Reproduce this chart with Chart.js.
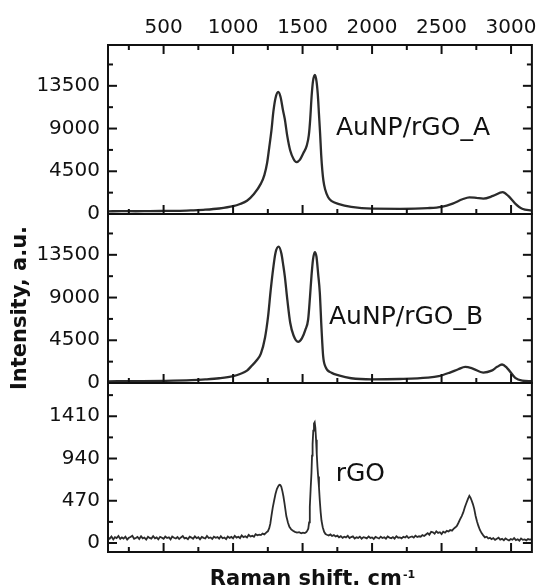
<!DOCTYPE html>
<html>
<head>
<meta charset="utf-8">
<script src="https://cdn.jsdelivr.net/npm/chart.js@4.4.0/dist/chart.umd.min.js"></script>
<style>
html,body{margin:0;padding:0;background:#fff;}
#wrap{width:542px;height:587px;position:relative;}
</style>
</head>
<body>
<div id="wrap"><canvas id="c" width="542" height="587"></canvas></div>
<script>
// ---------- data ----------
const shiftA = [100,200,300,400,500,600,700,800,900,1000,1050,1100,1150,1200,1225,1245,1260,1276,1290,1305,1325,1342,1358,1372,1390,1411,1435,1456,1480,1505,1530,1545,1555,1565,1575,1589,1600,1610,1618,1626,1634,1642,1650,1662,1684,1710,1756,1850,2000,2200,2400,2500,2580,2650,2700,2750,2800,2870,2940,2980,3030,3080,3150];
const intensityA = [280,300,290,310,320,330,380,450,580,820,1050,1400,2100,3200,4100,5400,7000,8800,10800,12200,12850,12300,11000,10000,8200,6690,5800,5460,5700,6400,7200,8300,10000,12400,14000,14650,14000,12500,10500,8500,6200,4600,3500,2600,1770,1350,1075,750,560,550,620,760,1100,1550,1760,1700,1620,1900,2300,1900,1100,550,380];

const shiftB = [100,300,500,700,800,900,1000,1050,1100,1130,1170,1200,1230,1252,1270,1288,1305,1328,1348,1360,1372,1390,1411,1435,1468,1495,1520,1540,1553,1564,1575,1588,1600,1612,1624,1636,1648,1665,1708,1760,1850,2000,2200,2400,2480,2560,2620,2670,2720,2800,2860,2900,2935,2970,3030,3080,3150];
const intensityB = [180,200,230,300,380,500,720,950,1300,1750,2400,3100,4800,7040,9700,12000,13700,14355,13600,12500,11260,8800,6345,5000,4342,4700,5600,6690,9000,11260,13000,13786,13300,11500,9500,5800,2825,1700,1075,800,500,380,420,560,720,1100,1450,1700,1550,1100,1300,1700,1950,1600,550,260,190];

const shiftC = [100,112,125,138,150,162,175,188,200,212,225,238,250,262,275,288,300,312,325,338,350,362,375,388,400,412,425,438,450,462,475,488,500,512,525,538,550,562,575,588,600,612,625,638,650,662,675,688,700,712,725,738,750,762,775,788,800,812,825,838,850,862,875,888,900,912,925,938,950,962,975,988,1000,1012,1025,1038,1050,1062,1075,1088,1100,1112,1125,1138,1150,1162,1175,1188,1200,1212,1225,1240,1250,1260,1268,1276,1285,1295,1305,1315,1325,1333,1340,1347,1355,1362,1370,1383,1395,1405,1418,1431,1445,1460,1475,1490,1503,1516,1527,1535,1541,1547,1552,1558,1564,1568,1572,1577,1582,1587,1592,1597,1602,1607,1612,1618,1624,1630,1636,1645,1655,1665,1675,1688,1700,1712,1725,1738,1750,1762,1775,1788,1800,1812,1825,1838,1850,1862,1875,1888,1900,1912,1925,1938,1950,1962,1975,1988,2000,2012,2025,2038,2050,2062,2075,2088,2100,2112,2125,2138,2150,2162,2175,2188,2200,2212,2225,2238,2250,2262,2275,2288,2300,2312,2325,2338,2350,2362,2375,2388,2400,2412,2425,2438,2450,2462,2475,2488,2500,2512,2525,2538,2550,2562,2575,2588,2600,2610,2620,2632,2645,2656,2668,2680,2690,2700,2708,2717,2726,2735,2745,2755,2765,2776,2788,2800,2812,2825,2836,2848,2860,2872,2885,2898,2910,2922,2935,2948,2960,2972,2985,2998,3010,3022,3035,3048,3060,3072,3085,3098,3110,3122,3135,3150];
const intensityC = [60,48,72,40,65,55,78,45,62,50,70,38,58,66,80,47,56,68,44,74,52,61,39,70,57,49,76,53,63,42,69,58,46,71,55,64,40,73,59,50,67,44,62,77,51,58,43,70,60,48,74,54,65,41,68,57,50,79,55,62,45,70,58,66,48,75,53,61,44,72,57,68,52,80,60,70,55,84,66,75,62,90,72,80,70,98,85,92,88,104,96,118,130,165,215,303,390,470,545,600,632,648,645,625,575,520,440,300,225,180,152,136,124,115,120,108,116,110,122,140,160,230,400,600,780,971,1100,1250,1330,1343,1280,1150,990,850,740,620,470,344,250,175,125,100,92,84,95,78,88,72,82,64,76,58,70,62,80,55,66,74,50,63,57,71,48,65,60,52,73,56,62,45,68,58,50,70,55,64,47,72,60,53,66,49,75,58,63,52,70,61,78,56,67,73,60,82,66,75,70,88,78,95,110,92,125,118,104,130,112,120,100,126,115,135,128,145,138,160,175,190,220,260,300,340,400,450,490,525,505,470,430,380,300,240,190,145,110,85,62,70,50,58,42,55,35,48,60,38,46,30,52,40,28,45,36,55,32,42,25,50,35,40,30,44,38,42];

const xTickValues = [500,1000,1500,2000,2500,3000];
const xMinorValues = [250,750,1250,1750,2250,2750];
const yTicksAB = [0,4500,9000,13500];
const yMinorAB = [2250,6750,11250,15750];
const yTicksC = [0,470,940,1410];
const yMinorC = [235,705,1175,1645];
const panelLabels = ['AuNP/rGO_A','AuNP/rGO_B','rGO'];
const xTitle = 'Raman shift. cm';
const xTitleSup = '-1';
const yTitle = 'Intensity, a.u.';

// ---------- helpers ----------
const FONT = '"DejaVu Sans", Verdana, sans-serif';
const toPts = (xs, ys) => xs.map((x, i) => ({x: x, y: ys[i]}));
const plain = v => String(v);

function yAxis(min, max, ticks) {
  return {
    type: 'linear', position: 'left', stack: 'panels', stackWeight: 1,
    min: min, max: max,
    grid: {display: false, drawTicks: false},
    border: {display: false},
    afterBuildTicks: s => { s.ticks = ticks.map(v => ({value: v})); },
    afterFit: s => { s.width = 108; },
    ticks: {color: '#111', font: {family: FONT, size: 20}, padding: 8, autoSkip: false, callback: plain}
  };
}

const framePlugin = {
  id: 'frame',
  afterDraw(chart) {
    const ctx = chart.ctx;
    const xs = chart.scales.x;
    const L = xs.left, R = xs.right;
    const panels = [
      {id: 'yA', major: yTicksAB, minor: yMinorAB, top: true, label: panelLabels[0], lx: 1740, ly: 8300},
      {id: 'yB', major: yTicksAB, minor: yMinorAB, top: false, label: panelLabels[1], lx: 1690, ly: 6200},
      {id: 'yC', major: yTicksC, minor: yMinorC, top: false, label: panelLabels[2], lx: 1738, ly: 690}
    ];
    ctx.save();
    ctx.strokeStyle = '#111';
    ctx.lineWidth = 2;
    ctx.lineCap = 'butt';
    const seg = (x1, y1, x2, y2) => { ctx.beginPath(); ctx.moveTo(x1, y1); ctx.lineTo(x2, y2); ctx.stroke(); };
    panels.forEach(p => {
      const ys = chart.scales[p.id];
      const T = ys.top, B = ys.bottom;
      ctx.strokeRect(L, T, R - L, B - T);
      const yt = (vals, len) => vals.forEach(v => {
        const y = ys.getPixelForValue(v);
        if (y > T + 1 && y < B - 1) { seg(L, y, L + len, y); seg(R, y, R - len, y); }
      });
      yt(p.major, 9); yt(p.minor, 5);
      const xt = (vals, len) => vals.forEach(v => {
        const x = xs.getPixelForValue(v);
        if (x > L + 1 && x < R - 1) {
          seg(x, B, x, B - len);
          if (p.top) seg(x, T, x, T + len);
        }
      });
      xt(xTickValues, 9); xt(xMinorValues, 5);
      ctx.fillStyle = '#111';
      ctx.font = '25px ' + FONT;
      ctx.textAlign = 'left';
      ctx.textBaseline = 'alphabetic';
      ctx.fillText(p.label, xs.getPixelForValue(p.lx), ys.getPixelForValue(p.ly));
    });
    // x title
    ctx.fillStyle = '#111';
    ctx.font = 'bold 21px ' + FONT;
    const w1 = ctx.measureText(xTitle).width;
    ctx.font = 'bold 11px ' + FONT;
    const w2 = ctx.measureText(xTitleSup).width;
    const cx = (L + R) / 2 - 8;
    const x0 = cx - (w1 + w2) / 2;
    ctx.textAlign = 'left';
    ctx.textBaseline = 'alphabetic';
    ctx.font = 'bold 21px ' + FONT;
    ctx.fillText(xTitle, x0, 585);
    ctx.font = 'bold 11px ' + FONT;
    ctx.fillText(xTitleSup, x0 + w1 + 1, 578);
    // y title
    ctx.save();
    ctx.translate(21, 308);
    ctx.rotate(-Math.PI / 2);
    ctx.font = 'bold 21px ' + FONT;
    ctx.textAlign = 'center';
    ctx.textBaseline = 'middle';
    ctx.fillText(yTitle, 0, 0);
    ctx.restore();
    ctx.restore();
  }
};

const lineStyle = {borderColor: 'rgba(25,25,25,0.92)', borderWidth: 2.3, pointRadius: 0, cubicInterpolationMode: 'monotone', fill: false};

new Chart(document.getElementById('c'), {
  type: 'line',
  data: {
    datasets: [
      Object.assign({label: panelLabels[0], data: toPts(shiftA, intensityA), xAxisID: 'x', yAxisID: 'yA'}, lineStyle),
      Object.assign({label: panelLabels[1], data: toPts(shiftB, intensityB), xAxisID: 'x', yAxisID: 'yB'}, lineStyle),
      Object.assign({label: panelLabels[2], data: toPts(shiftC, intensityC), xAxisID: 'x', yAxisID: 'yC'}, lineStyle, {borderWidth: 1.8, cubicInterpolationMode: 'default', tension: 0})
    ]
  },
  options: {
    responsive: false,
    animation: false,
    devicePixelRatio: 1,
    layout: {padding: {left: 0, right: 10, top: 0, bottom: 0}},
    plugins: {legend: {display: false}, tooltip: {enabled: false}},
    scales: {
      x: {
        type: 'linear', position: 'bottom', min: 100, max: 3150,
        grid: {display: false, drawTicks: false}, border: {display: false},
        ticks: {display: false},
        afterFit: s => { s.height = 35; }
      },
      xTop: {
        type: 'linear', position: 'top', min: 100, max: 3150,
        grid: {display: false, drawTicks: false}, border: {display: false},
        afterBuildTicks: s => { s.ticks = xTickValues.map(v => ({value: v})); },
        afterFit: s => { s.height = 45; },
        ticks: {color: '#111', font: {family: FONT, size: 20}, padding: 5, maxRotation: 0, autoSkip: false, callback: plain}
      },
      yC: yAxis(-100, 1780, yTicksC),
      yB: yAxis(0, 17800, yTicksAB),
      yA: yAxis(0, 17800, yTicksAB)
    }
  },
  plugins: [framePlugin]
});
</script>
</body>
</html>
